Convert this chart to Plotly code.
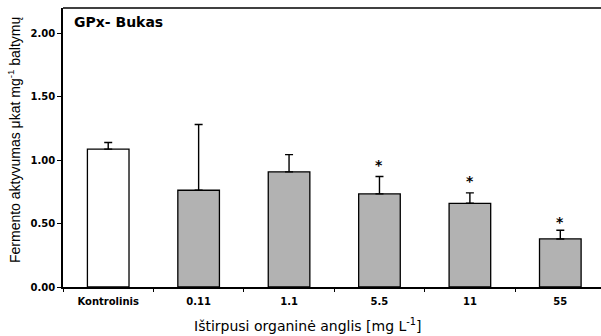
import plotly.graph_objects as go

# GPx activity in Bukas samples by dissolved organic carbon concentration
categories = ["Kontrolinis", "0.11", "1.1", "5.5", "11", "55"]
means = [1.087, 0.763, 0.908, 0.734, 0.660, 0.379]
sd_plus = [0.052, 0.518, 0.136, 0.137, 0.082, 0.068]
significant = [False, False, False, True, True, True]
star_heights = [None, None, None, 0.989, 0.858, 0.539]
y_ticks = [0.0, 0.5, 1.0, 1.5, 2.0]
y_tick_text = ["0.00", "0.50", "1.00", "1.50", "2.00"]

fill_colors = ["#ffffff"] + ["#b2b2b2"] * (len(categories) - 1)

SANS = "Liberation Sans, Arial, sans-serif"
WIDE = "DejaVu Sans, sans-serif"

fig = go.Figure()
fig.add_trace(go.Bar(
    x=categories,
    y=means,
    width=0.46,
    marker=dict(color=fill_colors, line=dict(color="#000000", width=1.3)),
    error_y=dict(type="data", array=sd_plus, arrayminus=[0] * len(means),
                 symmetric=False, color="#000000", thickness=1.4, width=4),
    showlegend=False,
))

# significance marks above the treated groups
for i, (sig, h) in enumerate(zip(significant, star_heights)):
    if sig:
        fig.add_annotation(x=i, y=h, text="<b>*</b>", showarrow=False,
                           font=dict(family=WIDE, size=14, color="#000000"),
                           xref="x", yref="y", yanchor="middle", yshift=-3)

fig.add_annotation(x=0.016, y=0.985, xref="paper", yref="paper",
                   text="<b>GPx- Bukas</b>", showarrow=False,
                   xanchor="left", yanchor="top",
                   font=dict(family=WIDE, size=14, color="#000000"))

# axis titles
fig.add_annotation(x=-0.091, y=0.527, xref="paper", yref="paper",
                   text="Fermento aktyvumas μkat mg<sup>-1</sup> baltymų",
                   textangle=-90, showarrow=False,
                   xanchor="center", yanchor="middle",
                   font=dict(family=SANS, size=14, color="#000000"))
fig.add_annotation(x=0.455, y=-0.136, xref="paper", yref="paper",
                   text="Ištirpusi organinė anglis [mg L<sup>-1</sup>]",
                   showarrow=False, xanchor="center", yanchor="middle",
                   font=dict(family=WIDE, size=14, color="#000000"))

# top frame line
fig.add_shape(type="line", xref="paper", yref="paper", x0=0, x1=1, y0=1, y1=1,
              line=dict(color="#000000", width=1.5))

fig.update_layout(
    width=601, height=336,
    margin=dict(l=63, r=0, t=8, b=49),
    paper_bgcolor="#ffffff", plot_bgcolor="#ffffff",
    font=dict(family=SANS, color="#000000"),
)
fig.update_xaxes(
    type="category",
    range=[-0.5, 5.45],
    showline=True, linecolor="#000000", linewidth=2,
    ticks="outside", ticklen=3, tickcolor="#000000", tickwidth=1,
    tickson="boundaries", ticklabelstandoff=4,
    tickfont=dict(family=WIDE, size=10, color="#000000", weight="bold"),
    showgrid=False, zeroline=False,
)
fig.update_yaxes(
    range=[0, 2.2],
    tickmode="array", tickvals=y_ticks, ticktext=y_tick_text,
    showline=True, linecolor="#000000", linewidth=1.5,
    ticks="outside", ticklen=4, tickcolor="#000000", tickwidth=1,
    tickfont=dict(family=WIDE, size=10, color="#000000", weight="bold"),
    showgrid=False, zeroline=False,
)

fig.write_html("out.html")
